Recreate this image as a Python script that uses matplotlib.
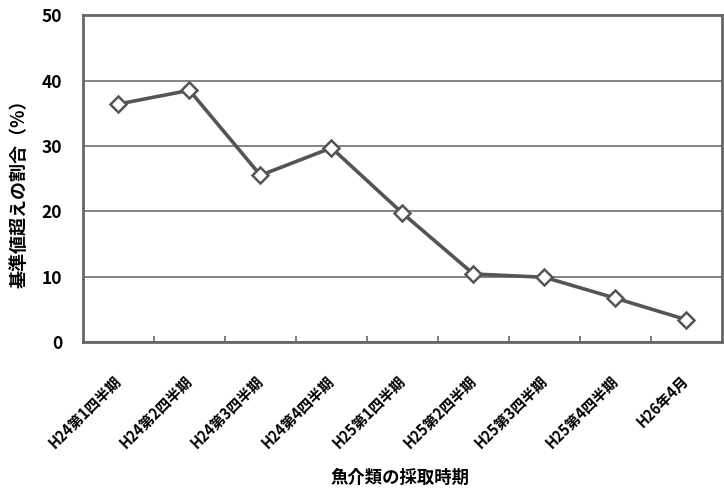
import matplotlib.pyplot as plt

plt.rcParams['font.family'] = ['Noto Sans CJK JP', 'DejaVu Sans']

# Sampling periods and share of samples above the standard limit (%)
periods = ['H24第1四半期', 'H24第2四半期', 'H24第3四半期', 'H24第4四半期',
           'H25第1四半期', 'H25第2四半期', 'H25第3四半期', 'H25第4四半期',
           'H26年4月']
ratios = [36.4, 38.5, 25.5, 29.7, 19.7, 10.4, 9.9, 6.7, 3.4]
yticks = [0, 10, 20, 30, 40, 50]

fig = plt.figure(figsize=(7.24, 4.88), dpi=100)
ax = fig.add_axes([0.1146, 0.2992, 0.8826, 0.6698])

x = list(range(len(periods)))
ax.plot(x, ratios, color='#555555', linewidth=2.6, marker='D', markersize=8.5,
        markerfacecolor='white', markeredgecolor='#555555', markeredgewidth=1.8,
        zorder=3)

ax.set_xlim(-0.5, len(periods) - 0.5)
ax.set_ylim(0, 50)
ax.set_yticks(yticks)
ax.set_yticklabels([str(v) for v in yticks], fontsize=12.5, fontweight='bold')
ax.yaxis.grid(True, color='#7a7a7a', linewidth=1.3)
ax.set_axisbelow(True)
ax.tick_params(axis='y', length=0, pad=15)

# category labels end under each point, boundary ticks inside the frame
ax.set_xticks(x)
ax.set_xticklabels(periods, rotation=45, ha='right', va='center',
                   rotation_mode='anchor', fontsize=10.5, fontweight='bold')
ax.tick_params(axis='x', which='major', length=0, pad=26)
ax.set_xticks([i + 0.5 for i in x[:-1]], minor=True)
ax.tick_params(axis='x', which='minor', direction='in', length=4,
               color='#666666', width=1.2)

for s in ax.spines.values():
    s.set_color('#666666')
    s.set_linewidth(2)

fig.text(0.026, 0.613, '基準値超えの割合（%）', rotation=90, ha='center',
         va='center', fontsize=13, fontweight='bold')
fig.text(0.553, 0.01, '魚介類の採取時期', ha='center', fontsize=12.5,
         fontweight='bold')

fig.savefig('out.png', dpi=100, facecolor='white')
